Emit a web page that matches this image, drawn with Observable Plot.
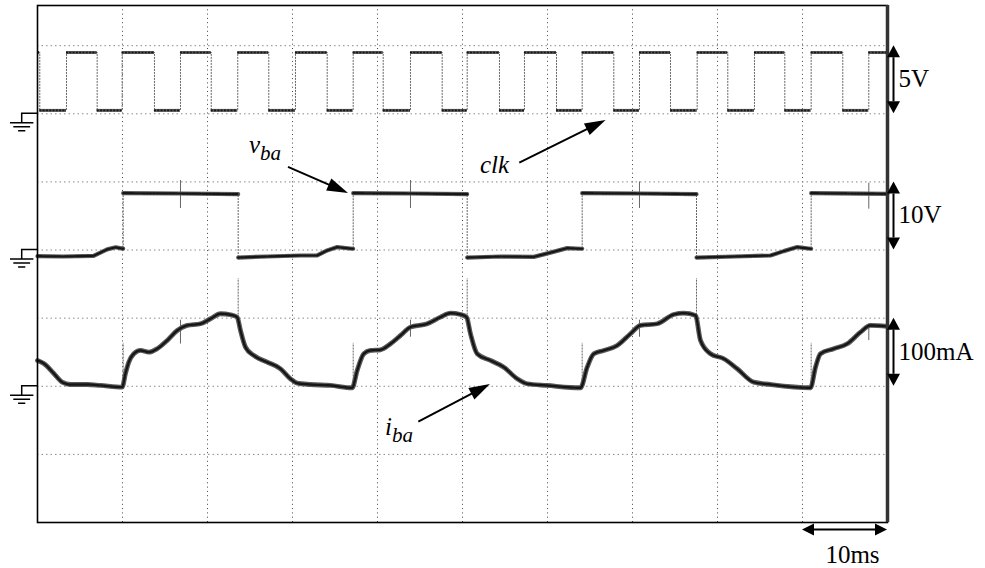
<!DOCTYPE html>
<html><head><meta charset="utf-8">
<script src="https://cdn.jsdelivr.net/npm/d3@7"></script>
<script src="https://cdn.jsdelivr.net/npm/@observablehq/plot@0.6"></script>
<style>body{margin:0;background:#fff}</style>
</head><body><div id="chart"></div>
<script>
// ---- grid / scale data ----
const gridTime = [10, 20, 30, 40, 50, 60, 70, 80, 90];   // ms (10 ms/div)
const gridDiv = [1, 2, 3, 4, 5, 6, 7];                   // vertical divisions
const channelNames = ["clk", "vba", "iba"];
const groundDiv = [6, 4, 2];          // ground marker of each channel (div)
const unitsPerDiv = [5, 10, 100];     // 5 V/div, 10 V/div, 100 mA/div
const scaleLabels = ["5V", "10V", "100mA"];
const timeScaleLabel = "10ms";

// ---- clk (V) ----
const clkFall = [0.27, 7.02, 13.76, 20.44, 27.21, 34.08, 40.67, 47.61, 54.35, 61.06, 67.8, 74.47, 81.21, 87.92, 94.74];
const clkRise = [3.41, 9.96, 16.82, 23.56, 30.35, 37.14, 43.88, 50.55, 57.29, 64.08, 70.82, 77.61, 84.35, 91.02, 97.8];
const clkHigh = 4.5, clkLow = 0.25;

// ---- v_ba (V) ----
const vbaSeg  = [0,0,0,0,0,0,0, 1,1,1, 2,2,2,2,2,2,2,2, 3,3,3, 4,4,4,4,4,4,4, 5,5,5, 6,6,6,6,6,6,6, 7,7];
const vbaTime = [0,3.0,6.6,8.2,9.2,10.0,10.08, 10.08,16.8,23.61, 23.61,27.0,30.94,32.9,34.08,35.26,37.02,37.14, 37.14,43.9,50.55, 50.55,54.5,58.39,60.35,62.32,63.88,64.08, 64.08,70.8,77.53, 77.53,82.0,86.24,87.8,89.38,90.94,91.02, 91.02,100];
const vbaVolt = [-0.9,-0.95,-0.85,0.1,0.4,0.2,0.2, 8.35,8.3,8.2, -1.1,-0.95,-0.8,-0.8,-0.06,0.43,0.19,0.19, 8.35,8.3,8.2, -1.1,-0.95,-1.0,-0.38,0.28,0.19,0.19, 8.35,8.3,8.2, -1.1,-0.95,-0.8,-0.16,0.43,0.19,0.19, 8.35,8.25];
const vbaEdges = [10.08, 23.61, 37.14, 50.55, 64.08, 77.53, 91.02];

// ---- i_ba (mA) ----
const ibaTime = [0,0.74,1.92,2.91,3.88,5.85,7.41,9.96,10.35,10.74,11.33,12.12,13.09,14.08,15.26,16.44,17.61,19.18,20.35,21.53,22.71,23.49,23.88,24.47,25.45,27.02,28.59,29.76,30.55,32.12,34.47,37.02,37.61,38.39,39.18,40.35,41.53,42.71,43.88,45.85,47.41,48.59,49.76,50.47,50.94,51.73,53.29,54.86,56.44,57.61,59.96,63.88,64.67,65.45,66.62,68.2,69.76,70.94,72.91,74.86,76.04,77.41,78.0,79.18,80.74,82.32,84.27,86.24,90.94,91.53,92.12,93.68,95.26,96.82,98.0,100];
const ibaCurr = [37.9,33.5,18.8,6.0,2.6,2.6,1.2,-1.3,18.8,35.4,47.7,52.6,50.1,55.1,67.3,81.9,89.3,91.8,99.1,106.5,105.0,101.5,81.9,57.4,45.2,35.4,25.7,11.0,4.6,2.6,1.2,-2.2,23.2,47.7,52.6,53.6,62.4,74.6,86.8,91.8,101.5,107.3,105.4,101.5,77.1,47.7,37.9,28.0,11.0,3.7,1.2,-2.2,28.0,47.7,52.6,59.9,77.1,89.3,91.8,105.4,107.3,104.0,67.3,47.7,40.4,25.7,6.0,2.6,-2.2,28.0,47.7,55.1,62.4,79.4,89.3,87.8];
// switching spikes on i_ba at v_ba edges (mA)
const ibaSpikeLow  = [-4, 100, -4, 100, -4, 100, -4];
const ibaSpikeHigh = [63, 158, 63, 158, 63, 158, 63];
// small spikes at mid-high clk rising edges
const midSpikeTime = [16.82, 43.88, 70.82, 97.8];
const vbaMidLow = [6.1, 6.1, 6.1, 6.0], vbaMidHigh = [10.2, 10.2, 10.0, 9.8];
const ibaMidLow = [62, 72, 72, 67], ibaMidHigh = [97, 97, 97, 87];

// ---- conversions to screen divisions ----
const toDiv = (ch, v) => groundDiv[ch] + v / unitsPerDiv[ch];

const clkEdgesAll = [...clkFall.map(t => ({t, up: false})), ...clkRise.map(t => ({t, up: true}))].sort((a, b) => a.t - b.t);
const clkSegs = [];
let prevT = 0, level = clkHigh;
for (const e of clkEdgesAll) {
  clkSegs.push({t1: prevT, t2: e.t, d: toDiv(0, level)});
  prevT = e.t; level = e.up ? clkHigh : clkLow;
}
clkSegs.push({t1: prevT, t2: 100, d: toDiv(0, level)});
const clkEdgeRules = clkEdgesAll.map(e => ({t: e.t, d1: toDiv(0, clkLow), d2: toDiv(0, clkHigh)}));

const vbaData = vbaTime.map((t, i) => ({t, d: toDiv(1, vbaVolt[i]), seg: vbaSeg[i]}));
const vbaEdgeRules = vbaEdges.map(t => {
  const pts = vbaData.filter(p => p.t === t).map(p => p.d);
  return {t, d1: Math.min(...pts), d2: Math.max(...pts)};
});
const ibaData = ibaTime.map((t, i) => ({t, d: toDiv(2, ibaCurr[i])}));
const ibaSpikes = vbaEdges.map((t, i) => ({t, d1: toDiv(2, ibaSpikeLow[i]), d2: toDiv(2, ibaSpikeHigh[i])}));
const midSpikes = midSpikeTime.flatMap((t, i) => [
  {t, d1: toDiv(1, vbaMidLow[i]), d2: toDiv(1, vbaMidHigh[i])},
  {t, d1: toDiv(2, ibaMidLow[i]), d2: toDiv(2, ibaMidHigh[i])}
]);

const base = "#5a5a5a", dark = "#161616";
const edgeStyle = {stroke: "#666", strokeWidth: 1, strokeDasharray: "2,1"};
const plot = Plot.plot({
  width: 985, height: 568,
  marginLeft: 37, marginRight: 98, marginTop: 5, marginBottom: 46,
  x: {domain: [0, 100], axis: null},
  y: {domain: [0, 7.59], axis: null},
  style: {background: "#fff"},
  marks: [
    Plot.ruleX(gridTime, {stroke: "#444", strokeWidth: 1, strokeDasharray: "1,3.3"}),
    Plot.ruleY(gridDiv, {stroke: "#8a8a8a", strokeWidth: 1, strokeDasharray: "1.5,3"}),
    // clk
    Plot.ruleX(clkEdgeRules, {x: "t", y1: "d1", y2: "d2", ...edgeStyle}),
    Plot.ruleY(clkSegs, {x1: "t1", x2: "t2", y: "d", stroke: base, strokeWidth: 3}),
    Plot.ruleY(clkSegs, {x1: "t1", x2: "t2", y: "d", stroke: dark, strokeWidth: 1.6, strokeDasharray: "2,1.3"}),
    // vba
    Plot.ruleX(vbaEdgeRules, {x: "t", y1: "d1", y2: "d2", ...edgeStyle}),
    Plot.ruleX(ibaSpikes, {x: "t", y1: "d1", y2: "d2", ...edgeStyle}),
    Plot.ruleX(midSpikes, {x: "t", y1: "d1", y2: "d2", stroke: "#666", strokeWidth: 1}),
    Plot.line(vbaData, {x: "t", y: "d", z: "seg", stroke: base, strokeWidth: 4.2}),
    Plot.line(vbaData, {x: "t", y: "d", z: "seg", stroke: dark, strokeWidth: 2.2, strokeDasharray: "2,1.3"}),
    // iba
    Plot.line(ibaData, {x: "t", y: "d", stroke: base, strokeWidth: 4.8, curve: "monotone-x"}),
    Plot.line(ibaData, {x: "t", y: "d", stroke: dark, strokeWidth: 2.4, strokeDasharray: "2,1.3", curve: "monotone-x"}),
    Plot.frame({stroke: "#000", strokeWidth: 1.6}),
    Plot.ruleX([100], {stroke: "#333", strokeWidth: 3.5})
  ]
});
document.getElementById("chart").appendChild(plot);

// ---- annotations drawn through the plot's scales ----
const xs = v => plot.scale("x").apply(v);
const ys = v => plot.scale("y").apply(v);
const svg = d3.select(plot);
const g = svg.append("g").attr("fill", "none").attr("stroke", "#000");
const font = "'Liberation Serif','Times New Roman',serif";

function arrowHead(x1, y1, x2, y2, len, half) {
  const a = Math.atan2(y2 - y1, x2 - x1), c = Math.cos(a), s = Math.sin(a);
  const bx = x2 - len * c, by = y2 - len * s;
  svg.append("path").attr("fill", "#000").attr("stroke", "none")
    .attr("d", `M${x2},${y2}L${bx - half * s},${by + half * c}L${bx + half * s},${by - half * c}Z`);
  return [bx, by];
}
function arrow(x1, y1, x2, y2, len = 21, half = 6.5, w = 2) {
  const [bx, by] = arrowHead(x1, y1, x2, y2, len, half);
  svg.append("line").attr("x1", x1).attr("y1", y1).attr("x2", bx + (x2 - bx) * 0.3).attr("y2", by + (y2 - by) * 0.3)
    .attr("stroke", "#000").attr("stroke-width", w);
}
function dblArrow(x1, y1, x2, y2, len = 12, half = 6.5, w = 2) {
  const [ax, ay] = arrowHead(x2, y2, x1, y1, len, half);
  const [bx, by] = arrowHead(x1, y1, x2, y2, len, half);
  svg.append("line").attr("x1", ax).attr("y1", ay).attr("x2", bx).attr("y2", by)
    .attr("stroke", "#000").attr("stroke-width", w);
}
function label(x, y, txt, anchor = "start") {
  return svg.append("text").attr("x", x).attr("y", y).attr("text-anchor", anchor)
    .attr("font-family", font).attr("font-size", 25).attr("fill", "#000").text(txt);
}

// ground symbols
groundDiv.forEach(gd => {
  const y0 = ys(gd), xl = xs(0), xc = xl - 15.3;
  g.append("path").attr("stroke-width", 1.5)
    .attr("d", `M${xl},${y0}H${xc}V${y0 + 9.4}M${xc - 11.7},${y0 + 9.4}H${xc + 11.7}M${xc - 8.4},${y0 + 13.4}H${xc + 8.4}M${xc - 3.6},${y0 + 17.4}H${xc + 3.6}`);
});

// vertical scale bars
const xBar = xs(100) + 6.5;
groundDiv.forEach((gd, i) => {
  dblArrow(xBar, ys(gd), xBar, ys(gd + 1));
  label(xBar + 5, ys(gd + 0.5) + 8, scaleLabels[i]);
});
// time scale bar
const yT = ys(0) + 7.5;
dblArrow(xs(90), yT, xs(100), yT, 12, 6, 2);
label((xs(90) + xs(100)) / 2 + 8, ys(0) + 40.5, timeScaleLabel, "middle");

// trace labels with arrows  (positions in ms / div)
const traceLabels = [
  {main: "v", sub: "ba", t: 24.94, d: 5.423, a: [29.53, 5.213, 36.59, 4.831]},
  {main: "clk", sub: "", t: 52.12, d: 5.129, a: [56.74, 5.276, 66.9, 5.903]},
  {main: "i", sub: "ba", t: 40.94, d: 1.278, a: [44.86, 1.473, 53.29, 2.026]}
];
traceLabels.forEach(l => {
  const tx = label(xs(l.t), ys(l.d), null).attr("font-style", "italic");
  tx.append("tspan").text(l.main);
  if (l.sub) tx.append("tspan").attr("dy", 7).attr("font-size", 21).text(l.sub);
  arrow(xs(l.a[0]), ys(l.a[1]), xs(l.a[2]), ys(l.a[3]));
});
</script>
</body></html>
